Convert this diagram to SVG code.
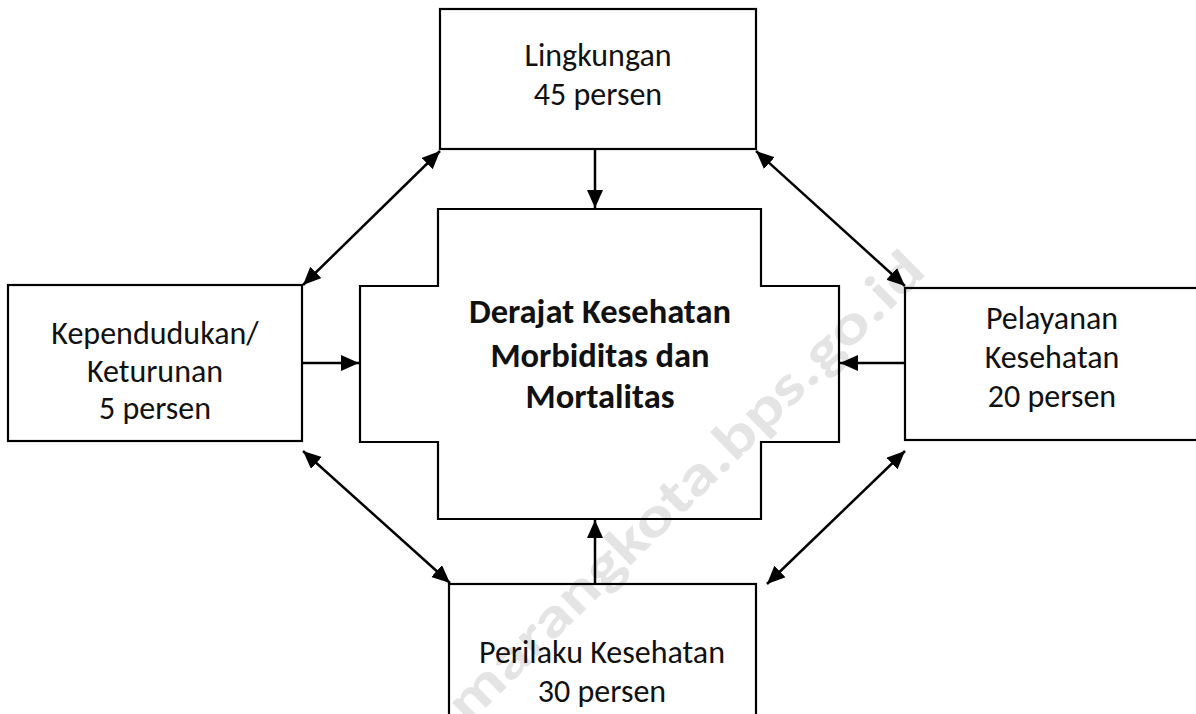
<svg xmlns="http://www.w3.org/2000/svg" width="1196" height="714" viewBox="0 0 1196 714">
  <style>
    .box { fill: none; stroke: #000; stroke-width: 2.2; }
    .lbl { font-family: "Carlito", "Open Sans", "Liberation Sans", sans-serif; font-size: 32px; fill: #111; text-anchor: middle; }
    .bold { font-weight: bold; font-size: 34.5px; }
    .conn { stroke: #000; stroke-width: 2.5; fill: none; }
    .wm { font-family: "Carlito", "Open Sans", "Liberation Sans", sans-serif; font-weight: bold; font-size: 56px; fill: #e4e4e4; text-anchor: middle; }
  </style>
  <defs>
    <marker id="ah" markerUnits="userSpaceOnUse" markerWidth="20" markerHeight="18" refX="18" refY="8" orient="auto-start-reverse">
      <path d="M0,0 L18,8 L0,16 Z" fill="#000"/>
    </marker>
  </defs>
  <rect width="1196" height="714" fill="#fff"/>

  <text class="wm" transform="translate(686,487) rotate(-44.5)" y="17" textLength="645" lengthAdjust="spacingAndGlyphs">marangkota.bps.go.id</text>

  <g id="node-center">
    <path class="box" d="M438,209 H761 V286 H839 V442 H761 V519 H438 V442 H360 V286 H438 Z"/>
    <text class="lbl bold" x="600" y="323">Derajat Kesehatan</text>
    <text class="lbl bold" x="600" y="367">Morbiditas dan</text>
    <text class="lbl bold" x="600" y="408">Mortalitas</text>
  </g>

  <g id="node-lingkungan">
    <rect class="box" x="440" y="9" width="316" height="140"/>
    <text class="lbl" x="598" y="66">Lingkungan</text>
    <text class="lbl" x="598" y="105">45 persen</text>
  </g>

  <g id="node-kependudukan">
    <rect class="box" x="8" y="285" width="294" height="156"/>
    <text class="lbl" x="155" y="344">Kependudukan/</text>
    <text class="lbl" x="155" y="382">Keturunan</text>
    <text class="lbl" x="155" y="419">5 persen</text>
  </g>

  <g id="node-pelayanan">
    <rect class="box" x="905" y="288" width="300" height="152"/>
    <text class="lbl" x="1052" y="329">Pelayanan</text>
    <text class="lbl" x="1052" y="368">Kesehatan</text>
    <text class="lbl" x="1052" y="407">20 persen</text>
  </g>

  <g id="node-perilaku">
    <rect class="box" x="449" y="584" width="307" height="150"/>
    <text class="lbl" x="602" y="663">Perilaku Kesehatan</text>
    <text class="lbl" x="602" y="702">30 persen</text>
  </g>

  <g id="connectors">
    <line class="conn" x1="595" y1="150" x2="595" y2="208" marker-end="url(#ah)"/>
    <line class="conn" x1="595" y1="584" x2="595" y2="520" marker-end="url(#ah)"/>
    <line class="conn" x1="302" y1="363" x2="359" y2="363" marker-end="url(#ah)"/>
    <line class="conn" x1="905" y1="363" x2="840" y2="363" marker-end="url(#ah)"/>
    <line class="conn" x1="303" y1="285" x2="440" y2="151" marker-start="url(#ah)" marker-end="url(#ah)"/>
    <line class="conn" x1="756" y1="151" x2="905" y2="286" marker-start="url(#ah)" marker-end="url(#ah)"/>
    <line class="conn" x1="303" y1="451" x2="450" y2="583" marker-start="url(#ah)" marker-end="url(#ah)"/>
    <line class="conn" x1="905" y1="451" x2="767" y2="584" marker-start="url(#ah)" marker-end="url(#ah)"/>
  </g>
</svg>
